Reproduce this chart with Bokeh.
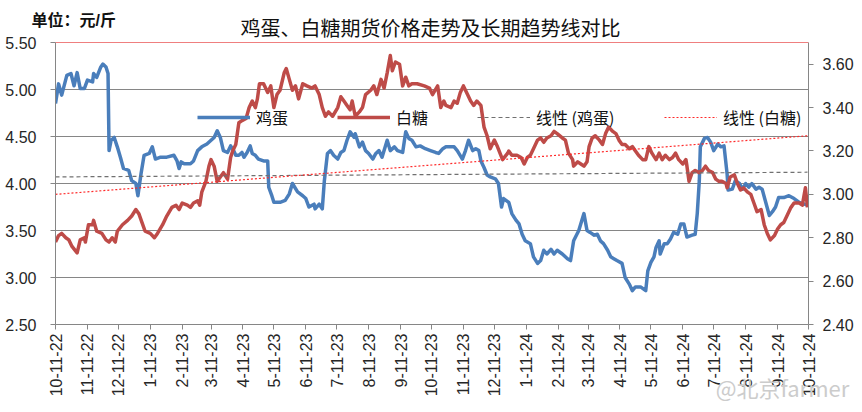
import math
import pandas as pd
from bokeh.plotting import figure
from bokeh.models import (Range1d, LinearAxis, FixedTicker, Label, Legend, LegendItem,
                          Span, NumeralTickFormatter)
from bokeh.embed import file_html
from bokeh.resources import INLINE

# ---------------- data ----------------
START = "2022-10-11"
tick_labels = ["10-11-22", "11-11-22", "12-11-22", "1-11-23", "2-11-23", "3-11-23", "4-11-23",
               "5-11-23", "6-11-23", "7-11-23", "8-11-23", "9-11-23", "10-11-23", "11-11-23",
               "12-11-23", "1-11-24", "2-11-24", "3-11-24", "4-11-24", "5-11-24", "6-11-24",
               "7-11-24", "8-11-24", "9-11-24", "10-11-24"]
left_ticks = [2.5, 3.0, 3.5, 4.0, 4.5, 5.0, 5.5]
right_ticks = [2.4, 2.6, 2.8, 3.0, 3.2, 3.4, 3.6]

# days since START
egg_day = [0, 3, 6, 11, 15, 18, 21, 24, 28, 31, 36, 37, 40, 44, 46, 49, 51, 52, 54, 57,
           60, 63, 66, 71, 74, 78, 80, 83, 86, 91, 94, 97, 102, 108, 115, 118, 120, 122, 125, 131,
           134, 138, 142, 147, 151, 154, 157, 160, 163, 167, 170, 173, 175, 178, 181, 183, 186, 189, 191, 194,
           197, 202, 206, 207, 210, 212, 218, 223, 227, 230, 235, 240, 243, 246, 251, 252, 256, 259, 261, 264,
           267, 270, 274, 277, 280, 283, 286, 290, 291, 295, 298, 301, 304, 308, 311, 314, 317, 322, 325, 329,
           332, 337, 340, 343, 346, 350, 354, 359, 364, 369, 372, 376, 379,
           387, 390, 395, 398, 401, 405, 408, 411, 413, 416, 419, 422, 427, 430, 433, 435, 440, 443, 447, 450,
           453, 456, 461, 464, 468, 471, 474, 477, 481, 484, 487, 492, 497, 500, 503, 508, 511, 513, 516, 519,
           523, 526, 529, 532, 536, 539, 542, 545, 550, 553, 557, 560, 563, 568, 573, 575, 578, 581, 583, 586,
           587, 591, 594, 597, 600, 604, 607, 610, 613, 618, 621, 623, 625, 626, 630, 633, 636, 639, 643, 646,
           649, 652, 653, 657, 660, 664, 667, 670, 673, 676, 680, 683, 686, 689, 693, 696, 699, 702, 707, 712,
           717, 722, 727, 730]
egg_price = [4.85, 5.06, 4.94, 5.15, 5.17, 5.04, 5.18, 5.01, 5.01, 5.10, 5.08, 5.17, 5.13, 5.24, 5.27, 5.24, 5.17, 4.35, 4.46, 4.49,
             4.39, 4.28, 4.16, 4.14, 4.03, 4.00, 3.87, 4.10, 4.30, 4.32, 4.39, 4.26, 4.28, 4.28, 4.30, 4.24, 4.16, 4.23, 4.21, 4.21,
             4.24, 4.35, 4.39, 4.42, 4.46, 4.49, 4.56, 4.49, 4.35, 4.33, 4.40, 4.35, 4.30, 4.30, 4.33, 4.28, 4.33, 4.40, 4.32, 4.30,
             4.26, 4.24, 4.24, 3.96, 3.87, 3.80, 3.80, 3.82, 3.89, 4.00, 3.91, 3.87, 3.84, 3.75, 3.78, 3.73, 3.78, 3.73, 4.03, 4.32,
             4.35, 4.30, 4.26, 4.33, 4.35, 4.46, 4.55, 4.49, 4.53, 4.39, 4.44, 4.35, 4.32, 4.26, 4.32, 4.35, 4.28, 4.46, 4.35, 4.39,
             4.35, 4.33, 4.55, 4.48, 4.46, 4.39, 4.40, 4.37, 4.35, 4.33, 4.32, 4.37, 4.39,
             4.39, 4.35, 4.26, 4.35, 4.46, 4.35, 4.37, 4.35, 4.24, 4.17, 4.09, 4.07, 4.05, 4.00, 3.75, 3.84, 3.80, 3.68, 3.61, 3.57,
             3.46, 3.39, 3.36, 3.22, 3.15, 3.18, 3.29, 3.25, 3.30, 3.25, 3.29, 3.25, 3.20, 3.18, 3.39, 3.50, 3.61, 3.68, 3.50, 3.48,
             3.45, 3.46, 3.39, 3.36, 3.29, 3.22, 3.20, 3.18, 3.15, 3.00, 2.93, 2.86, 2.90, 2.90, 2.86, 3.07, 3.16, 3.22, 3.32, 3.39,
             3.25, 3.36, 3.36, 3.41, 3.48, 3.46, 3.57, 3.57, 3.43, 3.45, 3.46, 3.68, 4.03, 4.39, 4.48, 4.49, 4.44, 4.35, 4.42, 4.39,
             4.40, 4.10, 3.93, 3.94, 4.03, 4.00, 3.94, 4.00, 3.96, 4.00, 3.94, 3.96, 3.94, 3.82, 3.66, 3.70, 3.75, 3.85, 3.85, 3.87,
             3.84, 3.80, 3.78, 3.77]

sugar_day = [0, 3, 6, 10, 13, 16, 21, 24, 28, 29, 32, 36, 37, 40, 45, 49, 52, 55, 58, 60,
             65, 70, 74, 78, 81, 84, 87, 92, 96, 99, 104, 108, 113, 117, 120, 123, 128, 131, 134, 138,
             140, 142, 146, 149, 151, 154, 157, 160, 163, 167, 170, 172, 175, 178, 181, 185, 188, 191, 194, 196,
             198, 202, 206, 209, 212, 215, 218, 222, 224, 227, 230, 233, 236, 240, 244, 249, 252, 256, 259, 262,
             265, 269, 274, 277, 280, 283, 286, 288, 291, 295, 298, 301, 306, 309, 312, 316, 319, 322, 325, 327,
             330, 334, 337, 340, 343, 346, 351, 358, 363, 366, 371, 374, 377,
             379, 384, 387, 390, 393, 396, 400, 403, 406, 409, 413, 416, 419, 422, 426, 429, 434, 439, 440, 443,
             448, 452, 455, 458, 461, 464, 468, 471, 474, 477, 481, 484, 487, 492, 495, 498, 502, 503, 507, 510,
             513, 516, 518, 521, 524, 528, 531, 534, 537, 541, 544, 547, 550, 553, 557, 560, 563, 566, 570, 573,
             576, 579, 583, 586, 589, 592, 596, 599, 602, 605, 609, 612, 613, 615, 618, 621, 625, 628, 631, 634,
             638, 641, 644, 647, 651, 652, 655, 659, 662, 665, 668, 672, 675, 678, 681, 685, 688, 691, 694, 698,
             701, 704, 707, 710, 714, 717, 722, 725, 728, 730]
sugar_price = [2.78, 2.81, 2.82, 2.80, 2.79, 2.76, 2.73, 2.79, 2.80, 2.78, 2.86, 2.86, 2.88, 2.83, 2.82, 2.79, 2.78, 2.80, 2.78, 2.83,
               2.86, 2.88, 2.90, 2.93, 2.91, 2.87, 2.83, 2.82, 2.80, 2.82, 2.86, 2.90, 2.94, 2.95, 2.93, 2.96, 2.95, 2.94, 2.96, 2.97,
               2.95, 3.01, 3.06, 3.13, 3.16, 3.13, 3.06, 3.08, 3.10, 3.07, 3.17, 3.20, 3.23, 3.33, 3.34, 3.35, 3.40, 3.43, 3.40, 3.44,
               3.51, 3.51, 3.47, 3.50, 3.40, 3.46, 3.48, 3.56, 3.58, 3.53, 3.48, 3.50, 3.44, 3.51, 3.50, 3.49, 3.50, 3.46, 3.40, 3.36,
               3.38, 3.36, 3.40, 3.45, 3.43, 3.41, 3.39, 3.43, 3.36, 3.38, 3.40, 3.46, 3.48, 3.50, 3.46, 3.53, 3.49, 3.56, 3.64, 3.57,
               3.61, 3.60, 3.50, 3.54, 3.50, 3.51, 3.51, 3.50, 3.49, 3.46, 3.50, 3.40, 3.43,
               3.41, 3.40, 3.43, 3.42, 3.47, 3.50, 3.46, 3.43, 3.41, 3.43, 3.41, 3.31, 3.27, 3.21, 3.25, 3.22, 3.16, 3.19, 3.20, 3.18,
               3.18, 3.17, 3.14, 3.17, 3.18, 3.21, 3.25, 3.26, 3.24, 3.26, 3.27, 3.29, 3.28, 3.26, 3.25, 3.19, 3.16, 3.13, 3.15, 3.14,
               3.13, 3.15, 3.22, 3.26, 3.27, 3.25, 3.23, 3.28, 3.31, 3.29, 3.28, 3.25, 3.23, 3.23, 3.21, 3.22, 3.20, 3.18, 3.16, 3.16,
               3.22, 3.19, 3.16, 3.19, 3.16, 3.18, 3.16, 3.17, 3.19, 3.16, 3.14, 3.16, 3.13, 3.06, 3.10, 3.11, 3.10, 3.11, 3.13, 3.11,
               3.10, 3.07, 3.06, 3.06, 3.05, 3.03, 3.08, 3.09, 3.05, 3.02, 3.03, 3.01, 3.00, 2.96, 2.92, 2.93, 2.86, 2.82, 2.79, 2.81,
               2.84, 2.86, 2.87, 2.90, 2.94, 2.96, 2.96, 2.95, 3.03, 2.94]

egg_trend = [4.07, 4.12]      # linear trend, start / end
sugar_trend = [3.00, 3.27]

TITLE = "鸡蛋、白糖期货价格走势及长期趋势线对比"
UNIT = "单位：元/斤"
WATERMARK = "@北京farmer"

# ---------------- figure ----------------
start = pd.Timestamp(START)
tick_days = [(pd.to_datetime(t, format="%m-%d-%y") - start).days for t in tick_labels]

FONT = "Liberation Sans"
CJK = "Noto Sans CJK SC"
MIXED = "'Liberation Sans', 'Noto Sans CJK SC'"
GRID = "#868686"

p = figure(width=862, height=412, output_backend="svg", toolbar_location=None,
           x_range=Range1d(tick_days[0], tick_days[-1]), y_range=Range1d(2.5, 5.5),
           min_border_left=55, min_border_right=54, min_border_top=42, min_border_bottom=88)
p.extra_y_ranges = {"sugar": Range1d(2.4, 3.7)}
p.outline_line_color = None
p.background_fill_color = "white"
p.border_fill_color = "white"

p.xgrid.visible = False
p.ygrid.grid_line_color = GRID
p.ygrid.grid_line_width = 1

p.yaxis.ticker = FixedTicker(ticks=left_ticks)
p.yaxis.formatter = NumeralTickFormatter(format="0.00")
p.xaxis.ticker = FixedTicker(ticks=tick_days)
p.xaxis.major_label_overrides = {d: l for d, l in zip(tick_days, tick_labels)}
p.xaxis.major_label_orientation = math.pi / 2
p.xaxis.major_label_standoff = 4

right = LinearAxis(y_range_name="sugar", ticker=FixedTicker(ticks=right_ticks),
                   formatter=NumeralTickFormatter(format="0.00"))
p.add_layout(right, "right")

for ax in p.yaxis + p.xaxis:
    ax.axis_line_color = GRID
    ax.major_tick_line_color = GRID
    ax.major_tick_out = 5
    ax.major_tick_in = 0
    ax.minor_tick_line_color = None
    ax.major_label_text_font = FONT
    ax.major_label_text_color = "#262626"
p.yaxis[0].major_label_text_font_size = "16px"
p.yaxis[0].major_label_standoff = 14
right.major_label_text_font_size = "16px"
right.major_label_standoff = 9
p.xaxis.major_label_text_font_size = "16px"

# watermark: a label-only axis stacked below the date axis, pulled up over it
wm_pos = (782 - 55) * (tick_days[-1] - tick_days[0]) / 753.0
wm_axis = LinearAxis(ticker=FixedTicker(ticks=[wm_pos]),
                     major_label_overrides={wm_pos: WATERMARK},
                     axis_line_color=None, major_tick_line_color=None,
                     major_tick_out=0, major_tick_in=0, minor_tick_line_color=None,
                     major_label_standoff=-29, major_label_text_font=CJK,
                     major_label_text_font_size="22px", major_label_text_color="#cccccc")
p.add_layout(wm_axis, "below")

# top border line (red)
p.add_layout(Span(location=5.5, dimension="width", line_color="#e00000", line_width=1))

r_egg = p.line(egg_day, egg_price, line_color="#4A7EBB", line_width=3.5, line_join="round")
r_sugar = p.line(sugar_day, sugar_price, y_range_name="sugar", line_color="#BE4B48",
                 line_width=3.5, line_join="round")
r_egg_t = p.line([egg_day[0], egg_day[-1]], egg_trend, line_color="#707070", line_width=1.2,
                 line_dash="4 3")
r_sugar_t = p.line([sugar_day[0], sugar_day[-1]], sugar_trend, y_range_name="sugar",
                   line_color="#ff2a2a", line_width=1.2, line_dash="2 2")

leg_common = dict(orientation="horizontal", glyph_width=53, glyph_height=20, label_standoff=6,
                  padding=0, margin=0, border_line_alpha=0, background_fill_alpha=0,
                  label_text_font=CJK, label_text_font_size="16px", label_text_color="#111111")
leg1 = Legend(items=[LegendItem(label="鸡蛋", renderers=[r_egg]),
                     LegendItem(label="白糖", renderers=[r_sugar]),
                     LegendItem(label="线性 (鸡蛋)", renderers=[r_egg_t])],
              location=(142, 195), label_width=80, spacing=1, **leg_common)
leg2 = Legend(items=[LegendItem(label="线性 (白糖)", renderers=[r_sugar_t])],
              location=(609, 195), **leg_common)
p.add_layout(leg1)
p.add_layout(leg2)

# titles (in the panel above the plot area)
p.add_layout(Label(x=375, y=14, x_units="screen", y_units="screen",
                   text=TITLE, text_align="center",
                   text_baseline="middle", text_font=MIXED, text_font_size="20px",
                   text_color="#111111"), "above")
p.add_layout(Label(x=-24, y=0, x_units="screen", y_units="screen",
                   text=UNIT, text_align="left", text_baseline="middle",
                   text_font=MIXED, text_font_size="16px", text_font_style="bold",
                   text_color="#111111"), "above")

open("out.html", "w").write(file_html(p, INLINE))
